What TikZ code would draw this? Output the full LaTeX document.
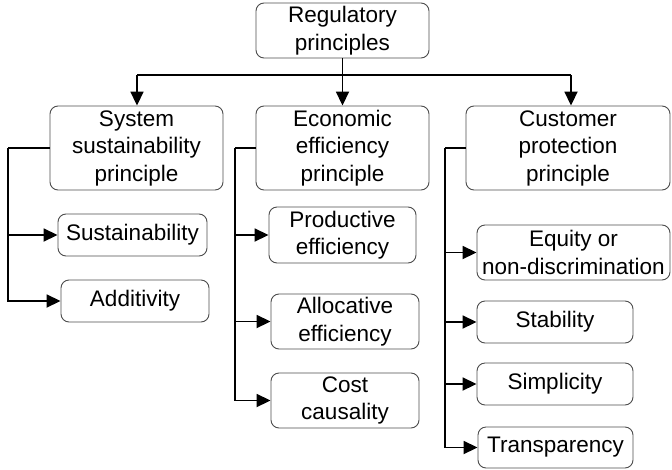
\documentclass[tikz,border=0pt]{standalone}
\usepackage{fontspec}
\setmainfont{Liberation Sans}
\usetikzlibrary{arrows.meta}
\begin{document}
\begin{tikzpicture}[x=1pt,y=-1pt,
  box/.style={draw=black!70, line width=0.9pt, rounded corners=8pt, align=center, inner sep=0pt,
    font=\fontsize{22.5}{27.5}\selectfont, text=black},
  conn/.style={line width=1.8pt, draw=black},
  arr/.style={conn, -{Triangle[length=14pt,width=13pt]}}]
\useasboundingbox (0,0) rectangle (672,469);
% boxes
\node[box, minimum width=173pt, minimum height=55pt] (root) at (342.5,30.5) {Regulatory\\principles};
\node[box, minimum width=173pt, minimum height=84pt] (sys) at (136.5,148) {System\\sustainability\\principle};
\node[box, minimum width=173pt, minimum height=84pt] (eco) at (342.5,148) {Economic\\efficiency\\principle};
\node[box, minimum width=204pt, minimum height=84pt] (cus) at (568,148) {Customer\\protection\\principle};
\node[box, minimum width=149pt, minimum height=42pt] (sust) at (132.5,235) {Sustainability};
\node[box, minimum width=148pt, minimum height=42pt] (add) at (135,301) {Additivity};
\node[box, minimum width=147pt, minimum height=56pt] (prod) at (342.5,235) {Productive\\efficiency};
\node[box, minimum width=148pt, minimum height=55pt] (alloc) at (345,321.5) {Allocative\\efficiency};
\node[box, minimum width=148pt, minimum height=55pt] (cost) at (345,400.5) {Cost\\causality};
\node[box, minimum width=193pt, minimum height=55pt] (eq) at (573.5,252.5) {Equity or\\non-discrimination};
\node[box, minimum width=156pt, minimum height=42pt] (stab) at (555,322) {Stability};
\node[box, minimum width=156pt, minimum height=42pt] (simp) at (555,384) {Simplicity};
\node[box, minimum width=155pt, minimum height=41pt] (trans) at (555.5,447.5) {Transparency};
% top distribution
\coordinate (hl) at (137,75);
\coordinate (hr) at (571,75);
\draw[arr] (root.south) -- (eco.north);
\draw[conn] (hl) -- (hr);
\draw[arr] (hl) -- (hl |- sys.north);
\draw[arr] (hr) -- (hr |- cus.north);
% buses
\coordinate (sb) at (8,148);
\coordinate (eb) at (235,148);
\coordinate (cb) at (445,148);
\draw[conn] (sys.west) -- (sb);
\draw[arr] (sb) |- (sust.west);
\draw[arr] (sb) |- (add.west);
\draw[conn] (eco.west) -- (eb);
\draw[arr] (eb) |- (prod.west);
\draw[arr] (eb) |- (alloc.west);
\draw[arr] (eb) |- (cost.west);
\draw[conn] (cus.west) -- (cb);
\draw[arr] (cb) |- (eq.west);
\draw[arr] (cb) |- (stab.west);
\draw[arr] (cb) |- (simp.west);
\draw[arr] (cb) |- (trans.west);
\end{tikzpicture}
\end{document}
